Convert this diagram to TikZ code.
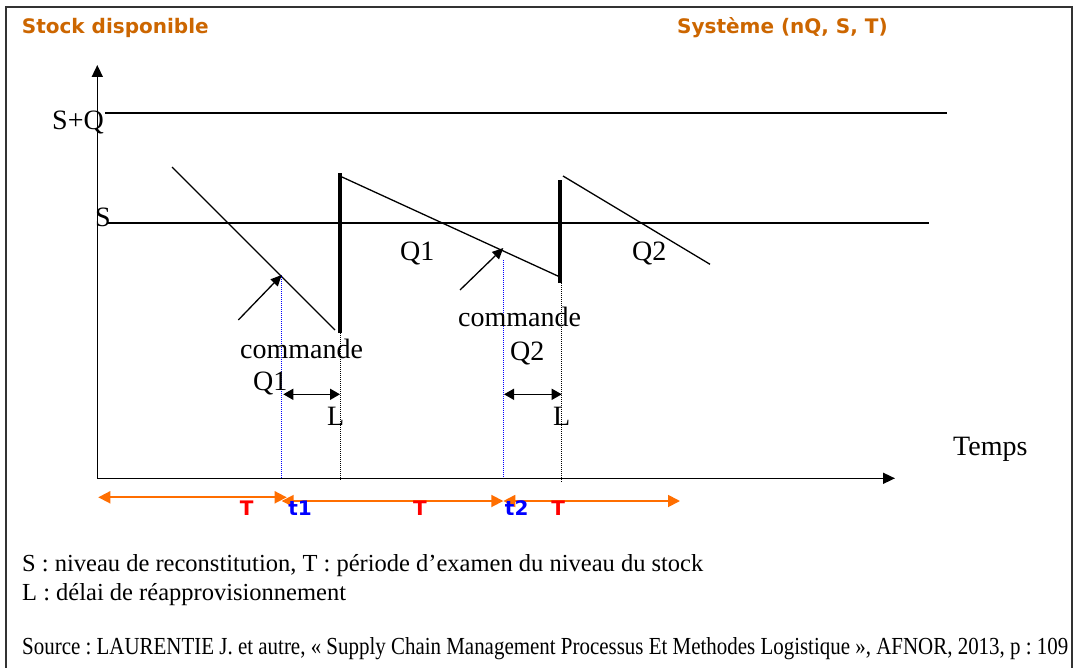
\documentclass[tikz,border=0pt]{standalone}
\usepackage{fontspec}
\setmainfont{Liberation Serif}
\newfontfamily\vfont{DejaVu Sans}
\usetikzlibrary{arrows.meta}
\definecolor{titleor}{RGB}{204,102,0}
\definecolor{arrowor}{RGB}{255,110,0}
\definecolor{tred}{RGB}{255,0,0}
\definecolor{tblue}{RGB}{0,0,255}
\definecolor{framec}{RGB}{51,51,51}
\begin{document}
\begin{tikzpicture}[x=1pt,y=-1pt,
  lab/.style={inner sep=0pt, anchor=base west, font=\fontsize{28}{30}\selectfont},
  ttl/.style={inner sep=0pt, anchor=base west, text=titleor, font=\vfont\bfseries\fontsize{20}{22}\selectfont},
  tlab/.style={inner sep=0pt, anchor=base, font=\vfont\bfseries\fontsize{20}{22}\selectfont},
  note/.style={inner sep=0pt, anchor=base west, font=\frenchspacing\fontsize{24.5}{26}\selectfont},
  axis/.style={line width=1.6pt, -{Triangle[length=12pt,width=11pt]}},
  level/.style={line width=1.6pt},
  saw/.style={line width=1.3pt},
  refill/.style={line width=3.3pt},
  guide/.style={line width=1pt, dash pattern=on 1pt off 1pt},
  pointer/.style={line width=1.3pt, -{Triangle[length=11pt,width=10pt]}},
  lead/.style={line width=1.5pt, {Triangle[length=10pt,width=11pt]}-{Triangle[length=10pt,width=11pt]}},
  period/.style={line width=1.8pt, draw=arrowor, {Triangle[length=12pt,width=12pt]}-{Triangle[length=12pt,width=12pt]}},
]
\useasboundingbox (0,0) rectangle (1075,668);
\fill[white] (0,0) rectangle (1075,668);
% frame
\coordinate (F1) at (6,672);
\coordinate (F2) at (6,6.7);
\coordinate (F3) at (1071.5,6.7);
\coordinate (F4) at (1071.5,672);
\draw[line width=2pt, draw=framec] (F1) -- (F2) -- (F3) -- (F4);
% titles
\node[ttl] (title1) at (21.7,34) {Stock disponible};
\node[ttl] (title2) at (677,34) {Système (nQ, S, T)};
% axes
\coordinate (O) at (97.3,478.3);
\coordinate (Ytop) at (97.3,65);
\coordinate (Xend) at (895,478.3);
\draw[axis] (O) -- (Ytop);
\draw[axis] (O) -- (Xend);
% levels
\coordinate (SQa) at (105,113);
\coordinate (SQb) at (947,113);
\coordinate (Sa) at (107,223);
\coordinate (Sb) at (929,223);
\draw[level] (SQa) -- (SQb);
\draw[level] (Sa) -- (Sb);
\node[lab] (lSQ) at (52,129.5) {S+Q};
\node[lab] (lS) at (95,227) {S};
% sawtooth
\coordinate (A1) at (172,167);
\coordinate (A2) at (335,330);
\coordinate (R1b) at (340,333);
\coordinate (R1t) at (340,173);
\coordinate (B1) at (342,177);
\coordinate (B2) at (560,277);
\coordinate (R2b) at (560,283);
\coordinate (R2t) at (560,180);
\coordinate (C1) at (563,176);
\coordinate (C2) at (710,264.3);
\draw[saw] (A1) -- (A2);
\draw[refill] (R1b) -- (R1t);
\draw[saw] (B1) -- (B2);
\draw[refill] (R2b) -- (R2t);
\draw[saw] (C1) -- (C2);
% guides
\coordinate (G1t) at (340.7,333);
\coordinate (G1b) at (340.7,481);
\coordinate (G2t) at (561,283);
\coordinate (G2b) at (561,482);
\coordinate (H1t) at (281,275);
\coordinate (H1b) at (281,478);
\coordinate (H2t) at (503.5,260);
\coordinate (H2b) at (503.5,478);
\draw[guide] (G1t) -- (G1b);
\draw[guide] (G2t) -- (G2b);
\draw[guide, draw=tblue] (H1t) -- (H1b);
\draw[guide, draw=tblue] (H2t) -- (H2b);
% order pointers
\coordinate (P1s) at (238.3,320);
\coordinate (P1e) at (281.7,275);
\coordinate (P2s) at (460,290);
\coordinate (P2e) at (503.3,248);
\draw[pointer] (P1s) -- (P1e);
\draw[pointer] (P2s) -- (P2e);
% lead time arrows
\coordinate (L1a) at (283.3,394.3);
\coordinate (L1b) at (340,394.3);
\coordinate (L2a) at (504,394.3);
\coordinate (L2b) at (561.7,394.3);
\draw[lead] (L1a) -- (L1b);
\draw[lead] (L2a) -- (L2b);
% labels
\node[lab] (cmd1) at (240,358) {commande};
\node[lab] (q1low) at (253,390) {Q1};
\node[lab] (lL1) at (327,425) {L};
\node[lab] (cmd2) at (458,326) {commande};
\node[lab] (q2low) at (510,360) {Q2};
\node[lab] (lL2) at (553,425) {L};
\node[lab] (q1mid) at (400,260) {Q1};
\node[lab] (q2mid) at (632,260) {Q2};
\node[lab] (temps) at (953,455) {Temps};
% periods
\coordinate (T1a) at (98.3,497.3);
\coordinate (T1b) at (286.7,497.3);
\coordinate (T2a) at (281.7,501);
\coordinate (T2b) at (503.3,501);
\coordinate (T3a) at (503.3,501);
\coordinate (T3b) at (680,501);
\draw[period] (T1a) -- (T1b);
\draw[period] (T2a) -- (T2b);
\draw[period] (T3a) -- (T3b);
\node[tlab, text=tred] (tT1) at (246.7,515.5) {T};
\node[tlab, text=tred] (tT2) at (420,515.5) {T};
\node[tlab, text=tred] (tT3) at (558.3,515.5) {T};
\node[tlab, text=tblue] (tt1) at (300,515.5) {t1};
\node[tlab, text=tblue] (tt2) at (516.7,515.5) {t2};
% notes
\node[note] (n1) at (22,571) {S : niveau de reconstitution, T : période d’examen du niveau du stock};
\node[note] (n2) at (22,600) {L : délai de réapprovisionnement};
\node[note] (n3) at (22,654) {\resizebox{1046pt}{\height}{Source : LAURENTIE J. et autre, « Supply Chain Management Processus Et Methodes Logistique », AFNOR, 2013, p : 109}};
\end{tikzpicture}
\end{document}
